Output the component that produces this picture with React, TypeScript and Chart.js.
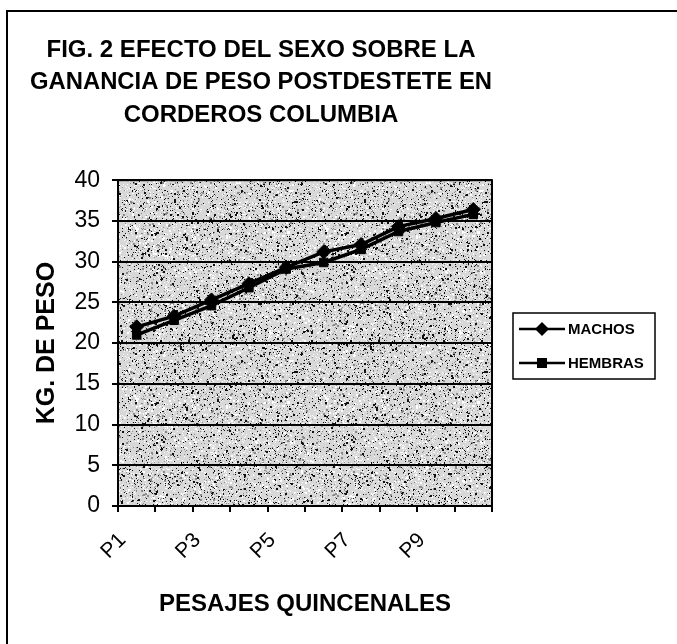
import React, { useEffect, useRef } from 'react';
import { Chart, registerables } from 'chart.js';
Chart.register(...registerables);

const categories = ['P1', 'P2', 'P3', 'P4', 'P5', 'P6', 'P7', 'P8', 'P9', 'P10'];
const machos = [22.0, 23.3, 25.3, 27.3, 29.3, 31.2, 32.1, 34.3, 35.3, 36.4];
const hembras = [21.0, 22.8, 24.6, 26.8, 29.1, 29.9, 31.5, 33.7, 34.8, 35.8];
const seriesNames = ['MACHOS', 'HEMBRAS'];
const titleLines = [
  'FIG. 2 EFECTO DEL SEXO SOBRE LA',
  'GANANCIA DE PESO POSTDESTETE EN',
  'CORDEROS COLUMBIA',
];
const yTitle = 'KG. DE PESO';
const xTitle = 'PESAJES QUINCENALES';
const yMin = 0;
const yMax = 40;
const yStep = 5;

const FONT = "'Liberation Sans', Arial, sans-serif";

function makeSpeckle(): HTMLCanvasElement {
  const c = document.createElement('canvas');
  c.width = 190;
  c.height = 170;
  const g = c.getContext('2d')!;
  g.fillStyle = '#d8d8d8';
  g.fillRect(0, 0, c.width, c.height);
  let s = 12345;
  const rnd = () => {
    s = (s * 1103515245 + 12345) & 0x7fffffff;
    return s / 0x7fffffff;
  };
  for (let i = 0; i < 10000; i++) {
    const x = Math.floor(rnd() * c.width);
    const y = Math.floor(rnd() * c.height);
    const r = rnd();
    g.fillStyle = r < 0.45 ? '#ffffff' : r < 0.68 ? '#8a8a8a' : '#111111';
    const sz = rnd() < 0.12 ? 2 : 1;
    g.fillRect(x, y, sz, sz);
  }
  return c;
}

export default function App() {
  const ref = useRef<HTMLCanvasElement>(null);
  useEffect(() => {
    const canvas = ref.current!;
    const speckle = makeSpeckle();
    const deco = {
      id: 'deco',
      beforeDraw(chart: any) {
        const ctx = chart.ctx;
        const a = chart.chartArea;
        ctx.save();
        ctx.fillStyle = '#ffffff';
        ctx.fillRect(0, 0, chart.width, chart.height);
        ctx.strokeStyle = '#000';
        ctx.lineWidth = 2;
        ctx.beginPath();
        ctx.moveTo(7, chart.height);
        ctx.lineTo(7, 11);
        ctx.lineTo(chart.width, 11);
        ctx.stroke();
        const pat = ctx.createPattern(speckle, 'repeat');
        ctx.fillStyle = pat;
        ctx.fillRect(a.left, a.top, a.right - a.left, a.bottom - a.top);
        ctx.restore();
      },
      afterDatasetsDraw(chart: any) {
        const ctx = chart.ctx;
        const a = chart.chartArea;
        ctx.save();
        ctx.strokeStyle = '#000';
        ctx.lineWidth = 2;
        ctx.strokeRect(a.left, a.top, a.right - a.left, a.bottom - a.top);
        // legend
        const lx = 513, ly = 313, lw = 142, lh = 66;
        ctx.fillStyle = '#fff';
        ctx.fillRect(lx, ly, lw, lh);
        ctx.lineWidth = 1.5;
        ctx.strokeRect(lx, ly, lw, lh);
        chart.data.datasets.forEach((ds: any, i: number) => {
          const cy = ly + 16 + i * 34;
          ctx.strokeStyle = '#000';
          ctx.lineWidth = 2.5;
          ctx.beginPath();
          ctx.moveTo(lx + 6, cy);
          ctx.lineTo(lx + 52, cy);
          ctx.stroke();
          ctx.fillStyle = '#000';
          ctx.beginPath();
          if (ds.pointStyle === 'rectRot') {
            const r = 7;
            const cx = lx + 29;
            ctx.moveTo(cx, cy - r);
            ctx.lineTo(cx + r, cy);
            ctx.lineTo(cx, cy + r);
            ctx.lineTo(cx - r, cy);
            ctx.closePath();
          } else {
            ctx.rect(lx + 29 - 5, cy - 5, 10, 10);
          }
          ctx.fill();
          ctx.font = `bold 15px ${FONT}`;
          ctx.textAlign = 'left';
          ctx.textBaseline = 'middle';
          ctx.fillText(ds.label, lx + 55, cy + 1);
        });
        ctx.restore();
      },
    };
    const chart = new Chart(canvas, {
      type: 'line',
      data: {
        labels: categories,
        datasets: [
          {
            label: seriesNames[0],
            data: machos,
            borderColor: '#000',
            backgroundColor: '#000',
            borderWidth: 3.5,
            pointStyle: 'rectRot',
            pointRadius: 7,
            pointBorderWidth: 1,
            tension: 0,
          },
          {
            label: seriesNames[1],
            data: hembras,
            borderColor: '#000',
            backgroundColor: '#000',
            borderWidth: 3.5,
            pointStyle: 'rect',
            pointRadius: 6,
            pointBorderWidth: 1,
            tension: 0,
          },
        ],
      },
      options: {
        responsive: false,
        animation: false,
        devicePixelRatio: 1,
        layout: { padding: { left: 30, right: 185, top: 0, bottom: 23 } },
        plugins: {
          legend: { display: false },
          tooltip: { enabled: false },
          title: {
            display: true,
            text: titleLines,
            color: '#000',
            font: { family: FONT, size: 24, weight: 'bold', lineHeight: 1.35 },
            padding: { top: 34, bottom: 49 },
          },
        },
        scales: {
          x: {
            offset: true,
            grid: {
              display: true,
              offset: true,
              drawOnChartArea: false,
              tickLength: 6,
              color: '#000',
              lineWidth: 2,
            },
            border: { display: true, color: '#000', width: 2 },
            ticks: {
              autoSkip: false,
              maxRotation: 45,
              minRotation: 45,
              color: '#000',
              padding: 16,
              labelOffset: -14,
              font: { family: FONT, size: 21 },
              callback: (_v: any, i: number) => (i % 2 === 0 ? categories[i] : ''),
            },
            title: {
              display: true,
              text: xTitle,
              color: '#000',
              font: { family: FONT, size: 24, weight: 'bold' },
              padding: { top: 4, bottom: 2 },
            },
            afterFit: (s: any) => {
              s.height = 115;
            },
          },
          y: {
            min: yMin,
            max: yMax,
            grid: { color: '#000', lineWidth: 2, tickLength: 6 },
            border: { display: true, color: '#000', width: 2 },
            ticks: {
              stepSize: yStep,
              color: '#000',
              padding: 12,
              font: { family: FONT, size: 23 },
            },
            title: {
              display: true,
              text: yTitle,
              color: '#000',
              font: { family: FONT, size: 25, weight: 'bold' },
              padding: { top: 2, bottom: 2 },
            },
            afterFit: (s: any) => {
              s.width = 88;
            },
          },
        },
      },
      plugins: [deco],
    } as any);
    return () => chart.destroy();
  }, []);
  return (
    <div style={{ position: 'fixed', left: 0, top: 0, width: 677, height: 644, background: '#fff' }}>
      <canvas ref={ref} width={677} height={644} style={{ width: 677, height: 644, display: 'block' }} />
    </div>
  );
}
